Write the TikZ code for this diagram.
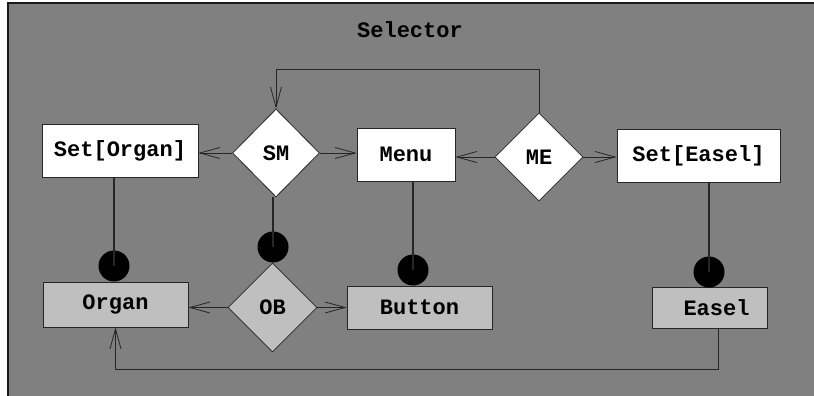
\documentclass[tikz,border=0pt]{standalone}
\usepackage{fontspec}
\setmonofont{Liberation Mono}
\usetikzlibrary{shapes.geometric,arrows.meta}
\begin{document}
\begin{tikzpicture}[x=1pt,y=-1pt,
  lbl/.style={font=\fontsize{22}{24}\selectfont\ttfamily\bfseries},
  wbox/.style={draw=black!85,line width=0.8pt,fill=white,inner sep=0pt,lbl},
  gbox/.style={wbox,fill=black!25},
  dmd/.style={diamond,draw=black!85,line width=0.8pt,fill=white,inner sep=0pt,
    minimum width=88pt,minimum height=88pt,lbl},
  gdmd/.style={dmd,fill=black!25},
  knob/.style={circle,fill=black,inner sep=0pt,minimum size=31pt},
  link/.style={line width=0.8pt,draw=black!85},
  arr/.style={link,-{Straight Barb[length=20pt,width=11pt,line width=0.8pt]}},
  stem/.style={line width=1.5pt,draw=black!85}]
\useasboundingbox (0,0) rectangle (814,396);
\fill[white] (0,0) rectangle (814,396);
% outer frame
\draw[line width=2pt,draw=black!90,fill=black!50] (8,3) rectangle (830,410);
\node[lbl] (title) at (410,30) {Selector};

% upper row
\node[wbox,minimum width=156pt,minimum height=53pt] (setorgan) at (120,150.5) {Set[Organ]};
\node[dmd,minimum width=87pt] (sm) at (276,153) {SM};
\node[wbox,minimum width=98pt,minimum height=53pt] (menu) at (406,154.5) {Menu};
\node[dmd] (me) at (539,157) {ME};
\node[wbox,minimum width=163pt,minimum height=53pt] (seteasel) at (698.5,155.5) {Set[Easel]};

% lower row
\node[gbox,minimum width=145pt,minimum height=45pt] (organ) at (115.5,304.5) {Organ};
\node[gdmd,minimum width=89pt,minimum height=89pt] (ob) at (272.5,307.5) {OB};
\node[gbox,minimum width=145pt,minimum height=43pt] (button) at (419.5,307.5) {Button};
\node[gbox,minimum width=115pt,minimum height=41pt] (easel) at (709.5,307.5) {\hspace*{14pt}Easel};

% ownership knobs
\node[knob] (k1) at (114,266) {};
\node[knob] (k2) at (273,247) {};
\node[knob] (k3) at (413,270) {};
\node[knob] (k4) at (709,272) {};

\draw[stem] (k1 |- setorgan.south) -- (k1.center);
\draw[stem] (k2 |- sm.south) -- (k2.center);
\draw[stem,line width=1.2pt] (k3 |- menu.south) -- (k3.center);
\draw[stem,line width=1.2pt] (k4 |- seteasel.south) -- (k4.center);

% selection arrows
\draw[arr] (sm.west) -- (sm.west -| setorgan.east);
\draw[arr] (sm.east) -- (sm.east -| menu.west);
\draw[arr] (me.west) -- (me.west -| menu.east);
\draw[arr] (me.east) -- (me.east -| seteasel.west);
\draw[arr] (ob.west) -- (ob.west -| organ.east);
\draw[arr] (ob.east) -- (ob.east -| button.west);

% feedback loops
\coordinate (looptop) at (0,69);
\draw[arr] (me.north) -- (me.north |- looptop) -| (sm.north);
\coordinate (loopbot) at (0,369);
\draw[arr] ([xshift=9pt]easel.south) -- ([xshift=9pt]easel.south |- loopbot) -| (organ.south);
\end{tikzpicture}
\end{document}
